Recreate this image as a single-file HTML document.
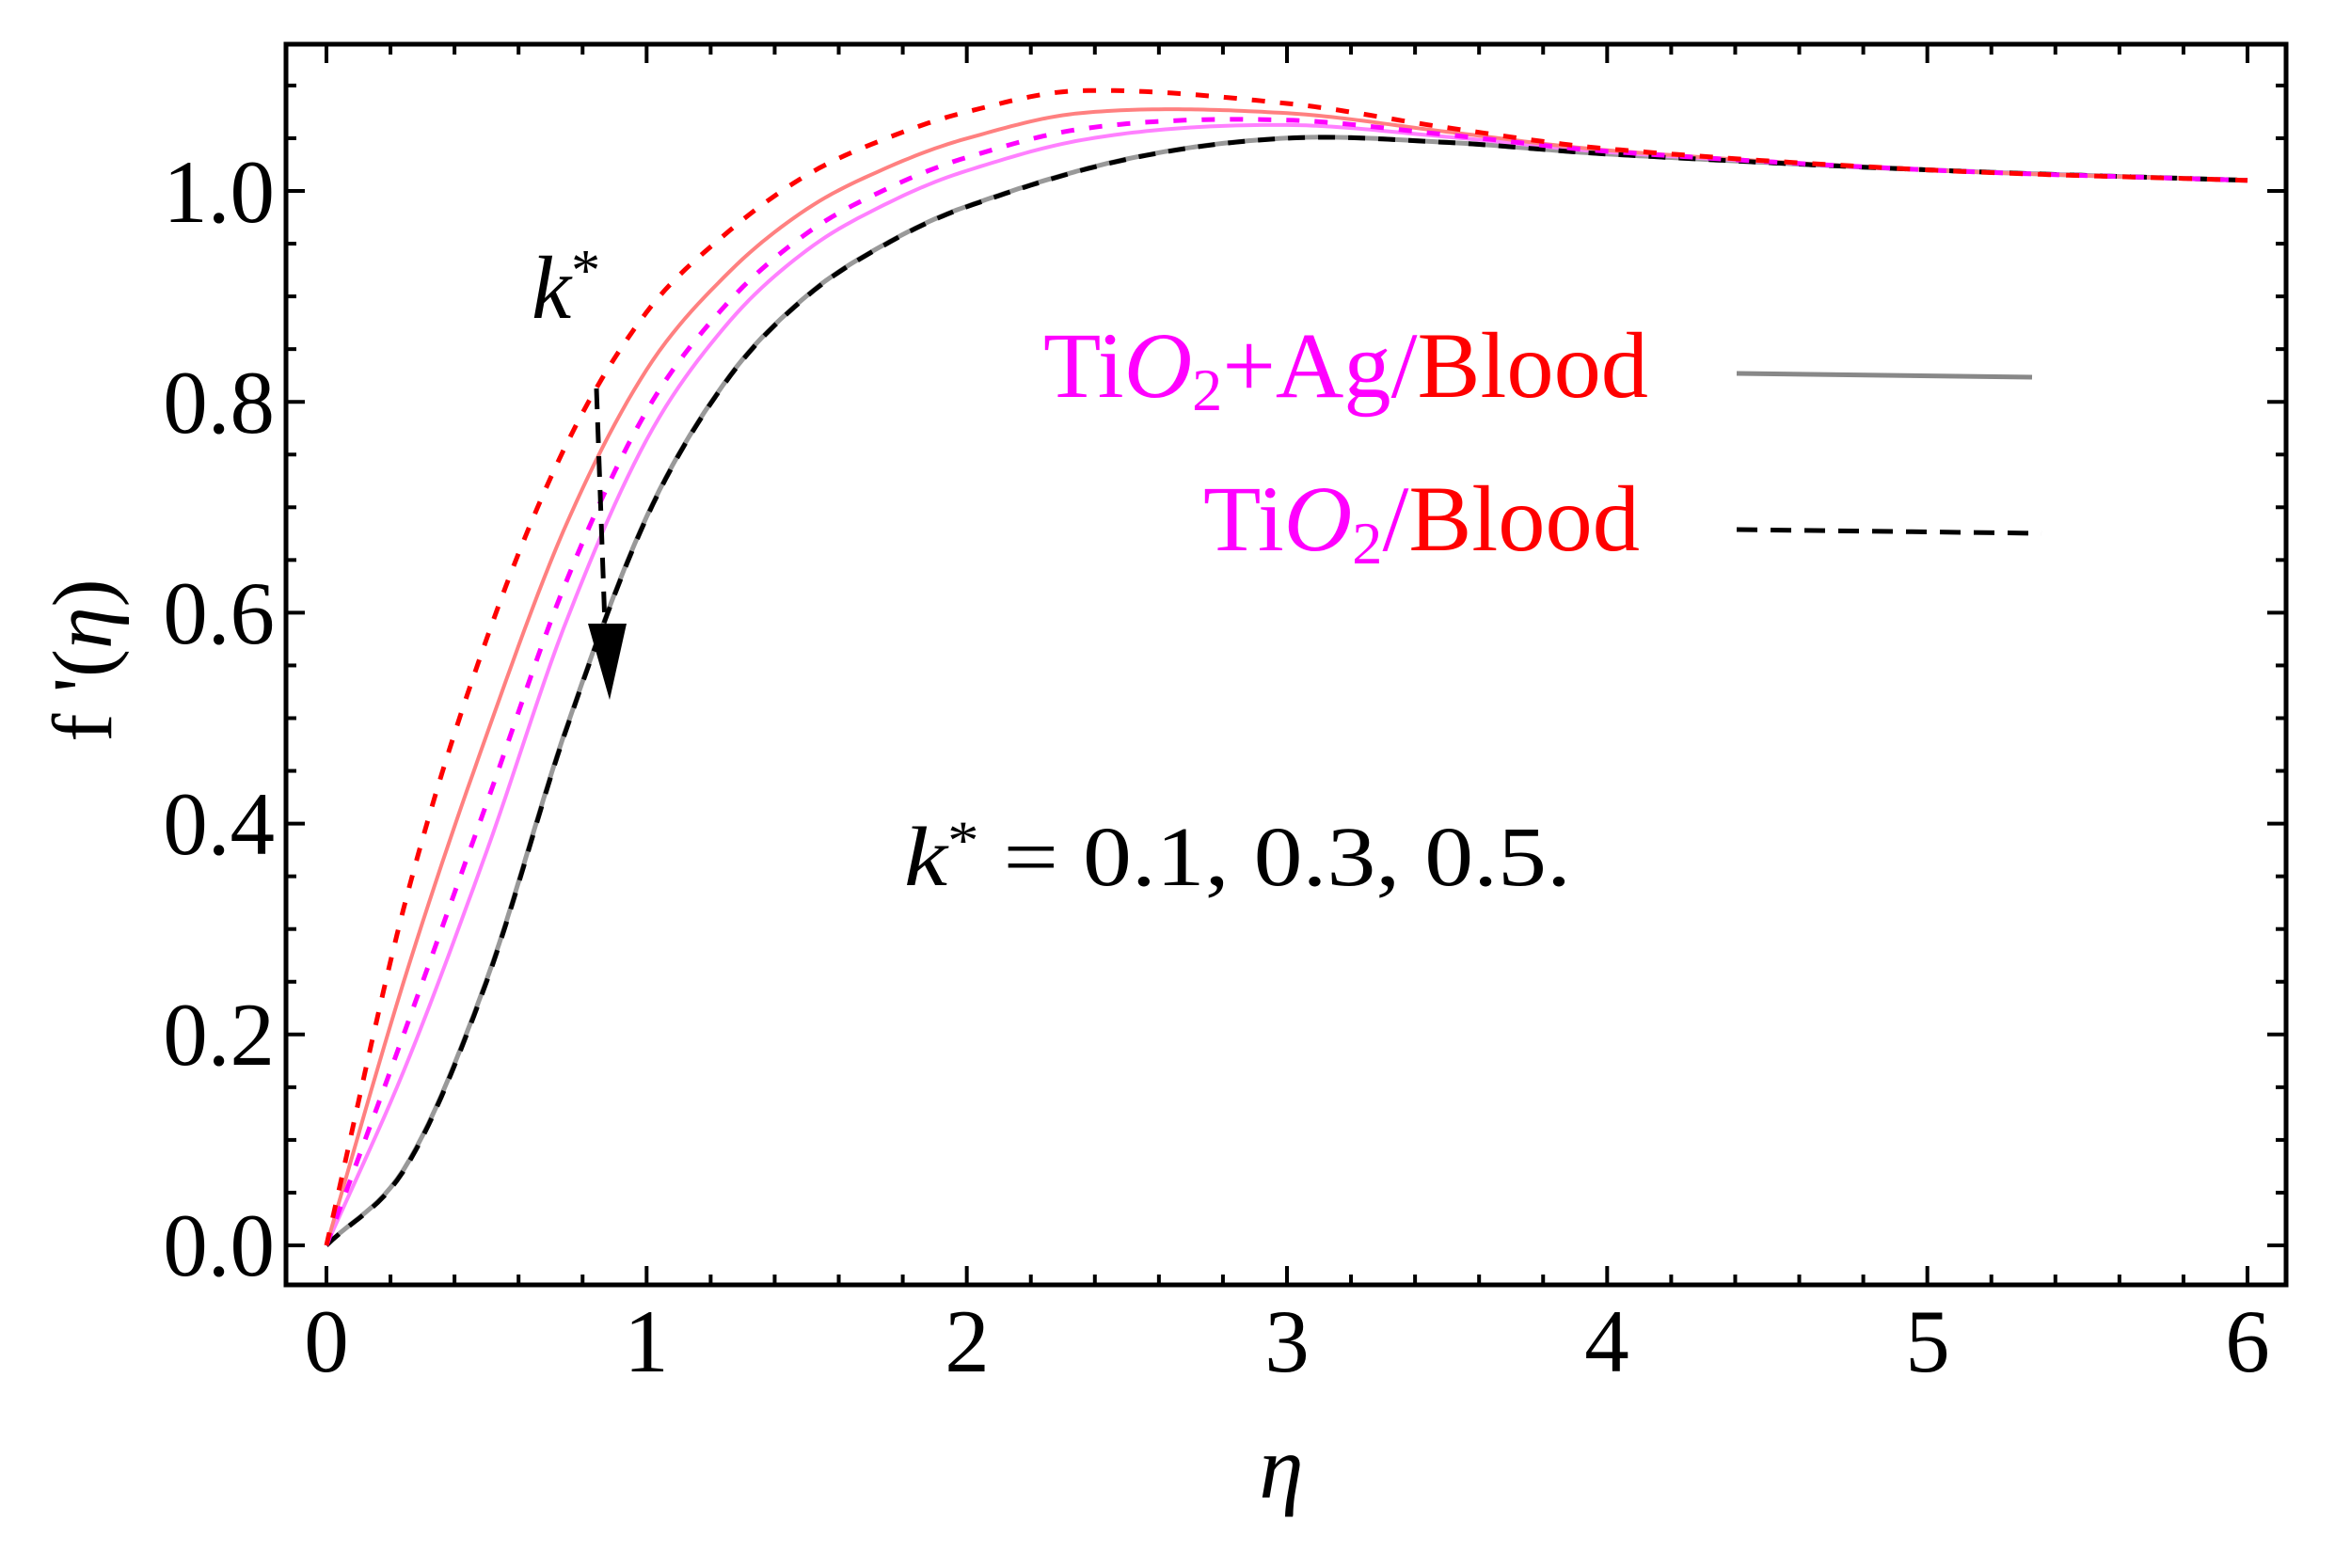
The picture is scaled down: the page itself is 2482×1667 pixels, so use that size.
<!DOCTYPE html>
<html><head><meta charset="utf-8"><style>
html,body{margin:0;padding:0;background:#fff;}
svg{display:block;}
text{font-family:"Liberation Serif",serif;}
</style></head><body>
<svg id="s" width="2482" height="1667" viewBox="0 0 2482 1667" xmlns="http://www.w3.org/2000/svg">
<rect width="2482" height="1667" fill="#fff"/>
<g id="curves" fill="none"></g>
<g id="ticks" stroke="#000" stroke-width="4"></g>
<rect x="304" y="47" width="2126" height="1319" fill="none" stroke="#000" stroke-width="5"/>
<g font-size="95" fill="#000" text-anchor="end">
<text x="292" y="1356">0.0</text>
<text x="292" y="1132">0.2</text>
<text x="292" y="908">0.4</text>
<text x="292" y="684">0.6</text>
<text x="292" y="460">0.8</text>
<text x="292" y="236">1.0</text>
</g>
<g font-size="95" fill="#000" text-anchor="middle">
<text x="347" y="1458">0</text>
<text x="687" y="1458">1</text>
<text x="1028" y="1458">2</text>
<text x="1368" y="1458">3</text>
<text x="1708" y="1458">4</text>
<text x="2049" y="1458">5</text>
<text x="2389" y="1458">6</text>
</g>
<text x="1362" y="1592" font-size="95" font-style="italic" text-anchor="middle">η</text>
<text transform="translate(118,702) rotate(-90)" font-size="90" text-anchor="middle">f '(<tspan font-style="italic">η</tspan>)</text>
<text x="565" y="338" font-size="95"><tspan font-style="italic">k</tspan><tspan font-size="62" dy="-30">*</tspan></text>
<text x="961" y="941" font-size="90" textLength="709" lengthAdjust="spacingAndGlyphs"><tspan font-style="italic">k</tspan><tspan font-size="58" dy="-28">*</tspan><tspan dy="28"> = 0.1, 0.3, 0.5.</tspan></text>
<text x="1109" y="422" font-size="100" textLength="643" lengthAdjust="spacingAndGlyphs"><tspan fill="#ff00ff">Ti<tspan font-style="italic">O</tspan><tspan font-size="64" dy="14">2</tspan><tspan dy="-14">+Ag/</tspan></tspan><tspan fill="#ff0000">Blood</tspan></text>
<text x="1279" y="585" font-size="100" textLength="464" lengthAdjust="spacingAndGlyphs"><tspan fill="#ff00ff">Ti<tspan font-style="italic">O</tspan><tspan font-size="64" dy="14">2</tspan><tspan dy="-14">/</tspan></tspan><tspan fill="#ff0000">Blood</tspan></text>
<line x1="1846" y1="397" x2="2160" y2="401" stroke="#888" stroke-width="5"/>
<line x1="1846" y1="563" x2="2170" y2="567" stroke="#000" stroke-width="5" stroke-dasharray="22,14"/>
<line x1="634" y1="413" x2="643" y2="665" stroke="#000" stroke-width="5" stroke-dasharray="22,14"/>
<polygon points="625,663 666,663 648,744" fill="#000"/>
</svg>
<script>
var X0=347,XS=340.33,Y0=1324,YS=1121;
function px(x){return X0+x*XS;} function py(y){return Y0-y*YS;}
var bx=[0,0.25,0.5,0.75,1,1.25,1.5,1.75,2,2.5,3,3.5,4,5,6];
var blk=[0,0.075,0.25,0.49,0.69,0.82,0.9,0.95,0.985,1.03,1.05,1.046,1.035,1.02,1.01];
var rx=[0,0.25,0.5,0.75,1,1.25,1.5,1.75,2,2.35,3,3.5,4,5,6];
var red=[0,0.33,0.575,0.76,0.885,0.96,1.015,1.05,1.075,1.095,1.083,1.06,1.04,1.02,1.01];
function interp(xs,ys,x){
  var n=xs.length,i=0;while(i<n-2&&x>xs[i+1])i++;
  var x0=xs[Math.max(i-1,0)],x1=xs[i],x2=xs[i+1],x3=xs[Math.min(i+2,n-1)];
  var y0=ys[Math.max(i-1,0)],y1=ys[i],y2=ys[i+1],y3=ys[Math.min(i+2,n-1)];
  var m1=(i==0)?(y2-y1)/(x2-x1):(y2-y0)/(x2-x0);
  var m2=(i+2>n-1)?(y2-y1)/(x2-x1):(y3-y1)/(x3-x1);
  var h=x2-x1,t=(x-x1)/h,t2=t*t,t3=t2*t;
  return (2*t3-3*t2+1)*y1+(t3-2*t2+t)*h*m1+(-2*t3+3*t2)*y2+(t3-t2)*h*m2;
}
function curve(w){var p=[];for(var x=0;x<=6.0001;x+=0.02){var b=interp(bx,blk,x),r=interp(rx,red,x);p.push(px(x).toFixed(1)+","+py(b+w*(r-b)).toFixed(1));}return p.join(" ");}
var g=document.getElementById("curves"),NS="http://www.w3.org/2000/svg";
function add(w,col,dash,sw){var e=document.createElementNS(NS,"polyline");e.setAttribute("points",curve(w));e.setAttribute("stroke",col);e.setAttribute("stroke-width",sw);if(dash)e.setAttribute("stroke-dasharray",dash);g.appendChild(e);}
add(0.005,"#999",null,5);
add(0.38,"#ff80ff",null,4);
add(0.72,"#ff8080",null,4);
add(0,"#000","18,14",5);
add(0.52,"#ff00ff","14,16",5);
add(1,"#ff0000","14,16",5);
var t=document.getElementById("ticks");
function ln(a,b,c,d){var e=document.createElementNS(NS,"line");e.setAttribute("x1",a);e.setAttribute("y1",b);e.setAttribute("x2",c);e.setAttribute("y2",d);t.appendChild(e);}
for(var i=0;i<=30;i++){var x=px(i*0.2),L=(i%5==0)?20:11;ln(x,1366,x,1366-L);ln(x,47,x,47+L);}
for(var j=0;j<=22;j++){var y=py(j*0.05);if(y<50)continue;var L=(j%4==0)?20:11;ln(304,y,304+L,y);ln(2430,y,2430-L,y);}
</script>
</body></html>
